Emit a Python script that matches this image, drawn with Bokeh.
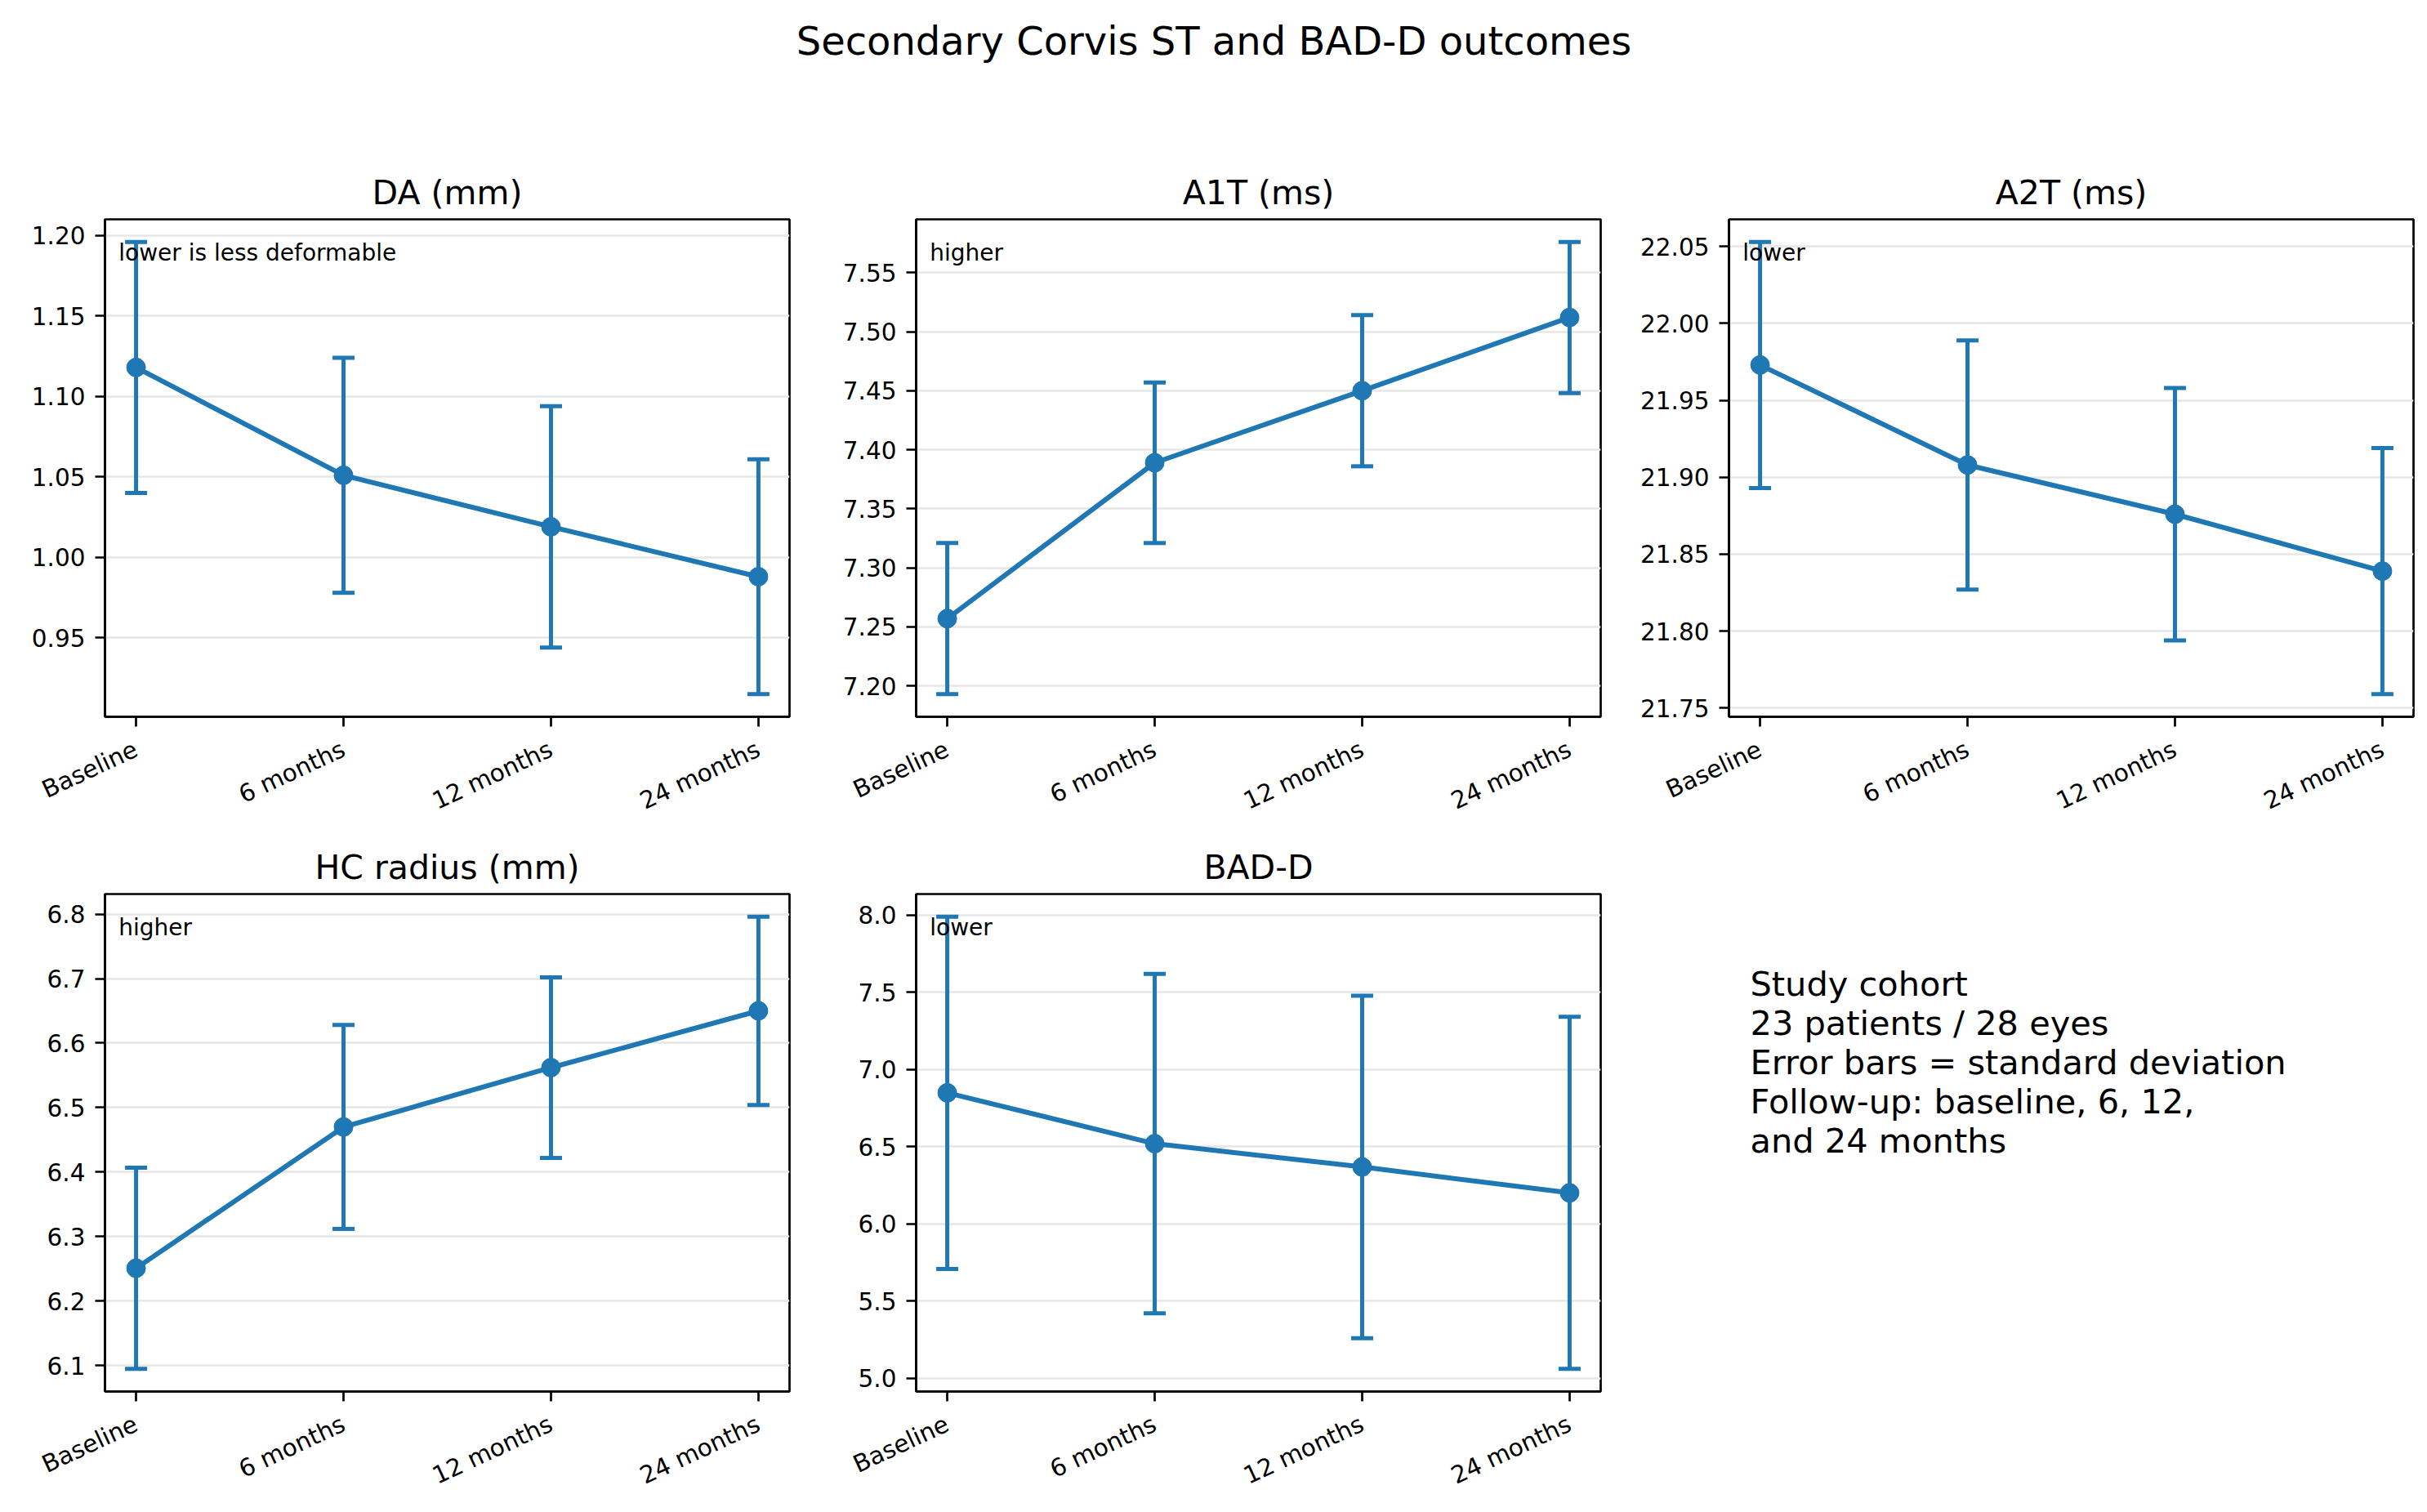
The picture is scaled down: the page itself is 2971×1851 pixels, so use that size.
import math
from bokeh.plotting import figure
from bokeh.models import (ColumnDataSource, Range1d, FixedTicker, PrintfTickFormatter,
                          Whisker, TeeHead, Label)
from bokeh.layouts import column, row
from bokeh.embed import file_html
from bokeh.resources import INLINE
from bokeh.core.properties import value

# ---------------- data ----------------
TIMEPOINTS = ["Baseline", "6 months", "12 months", "24 months"]
X_POS = [0, 1, 2, 3]

da_mean = [1.118, 1.051, 1.019, 0.988]
da_sd = [0.078, 0.073, 0.075, 0.073]
da_ticks = [0.95, 1.00, 1.05, 1.10, 1.15, 1.20]

a1t_mean = [7.257, 7.389, 7.450, 7.512]
a1t_sd = [0.064, 0.068, 0.064, 0.064]
a1t_ticks = [7.20, 7.25, 7.30, 7.35, 7.40, 7.45, 7.50, 7.55]

a2t_mean = [21.973, 21.908, 21.876, 21.839]
a2t_sd = [0.080, 0.081, 0.082, 0.080]
a2t_ticks = [21.75, 21.80, 21.85, 21.90, 21.95, 22.00, 22.05]

hc_mean = [6.251, 6.470, 6.562, 6.650]
hc_sd = [0.156, 0.158, 0.140, 0.146]
hc_ticks = [6.1, 6.2, 6.3, 6.4, 6.5, 6.6, 6.7, 6.8]

badd_mean = [6.848, 6.519, 6.368, 6.200]
badd_sd = [1.141, 1.099, 1.109, 1.140]
badd_ticks = [5.0, 5.5, 6.0, 6.5, 7.0, 7.5, 8.0]

SUPTITLE = "Secondary Corvis ST and BAD-D outcomes"
COHORT_LINES = ["Study cohort", "23 patients / 28 eyes", "Error bars = standard deviation",
                "Follow-up: baseline, 6, 12,", "and 24 months"]

# ---------------- style / layout ----------------
FONT = "DejaVu Sans"
BLUE = "#1f77b4"
SPINE = 2.7
TICK_FS = "29.5px"
FULL_W = 2971
FRAME_W, FRAME_H = 838, 609
W1, W2, W3 = 995, 995, 981
BL = [128, 126, 126]
BR = [29, 31, 17]

TOP_H = 150
R1_T, R1_B = 118, 140
R1_H = R1_T + FRAME_H + R1_B          # ends at 1017
R2_T, R2_B = 77, 148
R2_H = R2_T + FRAME_H + R2_B          # ends at 1851

LABEL_ANGLE = math.radians(25)


def make_panel(title, note, mean, sd, ticks, fmt, width, height, bl, br, bt, bb):
    lo = min(m - s for m, s in zip(mean, sd))
    hi = max(m + s for m, s in zip(mean, sd))
    pad = 0.05 * (hi - lo)
    y0, y1 = lo - pad, hi + pad
    x0, x1 = -0.15, 3.15
    p = figure(width=width, height=height, output_backend="svg", toolbar_location=None,
               x_range=Range1d(x0, x1), y_range=Range1d(y0, y1),
               min_border_left=bl, min_border_right=br, min_border_top=bt, min_border_bottom=bb)
    p.background_fill_color = "white"
    p.border_fill_color = "white"
    p.outline_line_color = "black"
    p.outline_line_width = SPINE
    p.title.text = title
    p.title.align = "center"
    p.title.text_font = FONT
    p.title.text_font_size = "41px"
    p.title.text_font_style = "normal"
    p.title.text_color = "black"
    p.title.standoff = 18

    src = ColumnDataSource(dict(x=X_POS, y=mean,
                                upper=[m + s for m, s in zip(mean, sd)],
                                lower=[m - s for m, s in zip(mean, sd)]))
    w = Whisker(base="x", upper="upper", lower="lower", source=src,
                line_color=BLUE, line_width=5,
                upper_head=TeeHead(size=27, line_color=BLUE, line_width=5),
                lower_head=TeeHead(size=27, line_color=BLUE, line_width=5))
    p.add_layout(w)
    p.line("x", "y", source=src, line_color=BLUE, line_width=6)
    p.scatter("x", "y", source=src, size=23, fill_color=BLUE, line_color=BLUE)

    p.add_layout(Label(x=x0 + 0.02 * (x1 - x0), y=y1 - 0.05 * (y1 - y0), y_offset=6, text=note,
                       text_font=FONT, text_font_size="28px", text_color="black",
                       text_align="left", text_baseline="top"))

    p.xaxis.ticker = FixedTicker(ticks=X_POS)
    p.xaxis.major_label_overrides = {i: t for i, t in zip(X_POS, TIMEPOINTS)}
    p.xaxis.major_label_orientation = LABEL_ANGLE
    p.xaxis.major_label_text_align = "right"
    p.xaxis.major_label_text_baseline = "bottom"
    p.yaxis.ticker = FixedTicker(ticks=ticks)
    p.yaxis.formatter = PrintfTickFormatter(format=fmt)
    for ax in (p.xaxis, p.yaxis):
        ax.axis_line_color = "black"
        ax.axis_line_width = SPINE
        ax.major_tick_line_color = "black"
        ax.major_tick_line_width = SPINE
        ax.major_tick_out = 12
        ax.major_tick_in = 0
        ax.minor_tick_line_color = None
        ax.major_label_text_font = FONT
        ax.major_label_text_font_size = TICK_FS
        ax.major_label_text_color = "black"
    p.yaxis.major_label_standoff = 12
    p.xaxis.major_label_standoff = 26
    p.xgrid.visible = False
    p.ygrid.grid_line_color = "#e6e6e6"
    p.ygrid.grid_line_width = 2.5
    return p


def blank(width, height, x_end, y_end, **borders):
    f = figure(width=width, height=height, output_backend="svg", toolbar_location=None,
               x_range=Range1d(0, x_end), y_range=Range1d(0, y_end),
               x_axis_location=None, y_axis_location=None, **borders)
    f.outline_line_color = None
    f.grid.visible = False
    f.background_fill_color = "white"
    f.border_fill_color = "white"
    return f


top = blank(FULL_W, TOP_H, 1, 1, min_border=0)
top.text(x=[0.5], y=[1 - 49 / TOP_H], text=[SUPTITLE], text_font=value(FONT),
         text_font_size="48px", text_align="center", text_baseline="middle", text_color="black")

p1 = make_panel("DA (mm)", "lower is less deformable", da_mean, da_sd, da_ticks, "%.2f",
                W1, R1_H, BL[0], BR[0], R1_T, R1_B)
p2 = make_panel("A1T (ms)", "higher", a1t_mean, a1t_sd, a1t_ticks, "%.2f",
                W2, R1_H, BL[1], BR[1], R1_T, R1_B)
p3 = make_panel("A2T (ms)", "lower", a2t_mean, a2t_sd, a2t_ticks, "%.2f",
                W3, R1_H, BL[2], BR[2], R1_T, R1_B)
p4 = make_panel("HC radius (mm)", "higher", hc_mean, hc_sd, hc_ticks, "%.1f",
                W1, R2_H, BL[0], BR[0], R2_T, R2_B)
p5 = make_panel("BAD-D", "lower", badd_mean, badd_sd, badd_ticks, "%.1f",
                W2, R2_H, BL[1], BR[1], R2_T, R2_B)

info = blank(W3, R2_H, FRAME_W, FRAME_H, min_border_left=BL[2], min_border_right=BR[2],
             min_border_top=R2_T, min_border_bottom=R2_B)
n = len(COHORT_LINES)
info_src = ColumnDataSource(dict(
    x=[26] * n,
    y=[FRAME_H - (110 + 48 * i) for i in range(n)],
    t=COHORT_LINES))
info.text(x="x", y="y", text="t", source=info_src, text_font=value(FONT),
          text_font_size="41.5px", text_align="left", text_baseline="alphabetic", text_color="black")

layout = column(top, row(p1, p2, p3), row(p4, p5, info))
open("out.html", "w").write(file_html(layout, INLINE))
